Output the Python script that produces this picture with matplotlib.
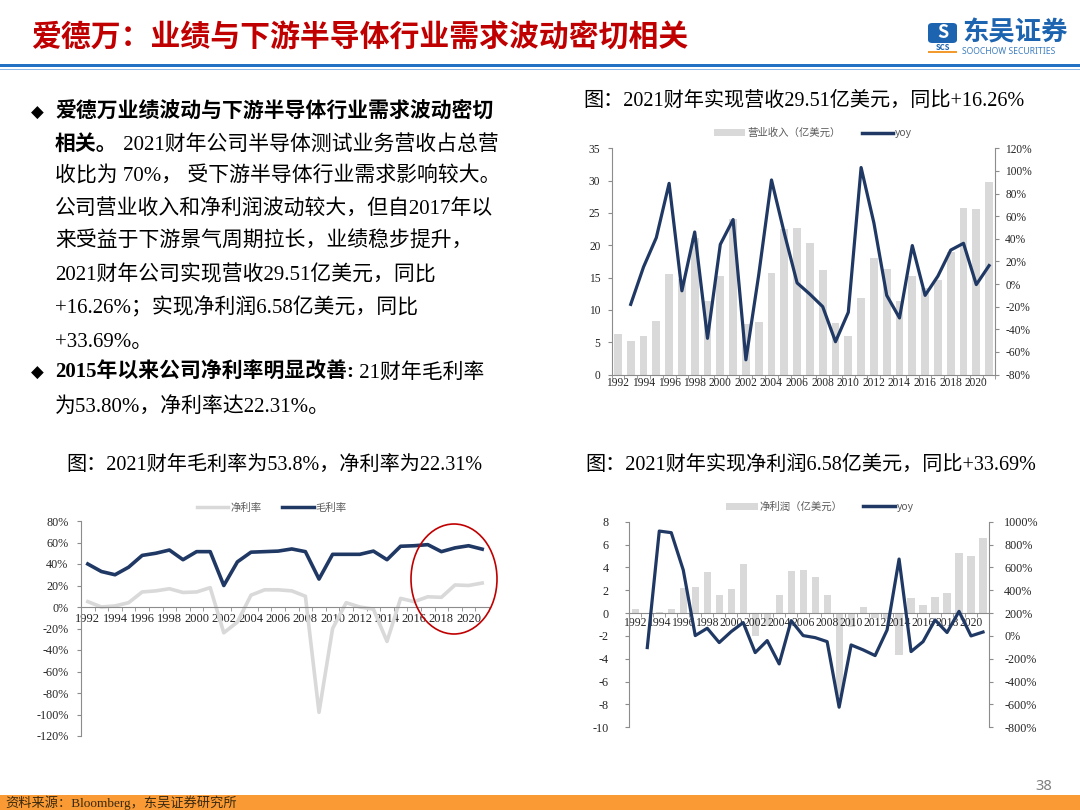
import matplotlib
matplotlib.use('Agg')
import matplotlib.pyplot as plt
import numpy as np
from matplotlib.patches import Rectangle, Ellipse, Patch, FancyBboxPatch
from matplotlib.lines import Line2D
from matplotlib.ticker import FuncFormatter

plt.rcParams['axes.unicode_minus'] = False

W, H = 1080, 810
SERIF = ['Liberation Serif', 'Noto Sans CJK SC', 'DejaVu Sans']
CJK = ['Noto Sans CJK SC', 'DejaVu Sans']
NAVY = '#1F3864'
GREY = '#D9D9D9'
AXC = '#8C8C8C'

# ---- data ----
years = list(range(1992, 2022))
revenue = [6.3, 5.2, 6.0, 8.3, 15.5, 14.7, 21.1, 11.4, 15.3, 24.0,
           7.8, 8.2, 15.7, 22.5, 22.6, 20.3, 16.2, 7.9, 5.9, 11.8,
           18.1, 16.3, 11.4, 15.2, 13.4, 14.6, 19.0, 25.7, 25.6, 29.8]
revenue_yoy = [np.nan, -18, 15, 41, 89, -6, 46, -48, 35, 57,
               -67, 8, 92, 45, 1, -9, -20, -51, -25, 103,
               54, -10, -30, 34, -10, 7, 30, 36, -0.5, 16.3]
gross_margin = [40, 33, 30, 37, 48, 50, 53, 44, 51.5, 51.5,
                20, 42, 51, 51.5, 52, 54, 51.5, 26, 49, 49,
                49, 52, 44, 56.5, 57, 58, 51.5, 55, 57, 53.8]
net_margin = [5, 0, 1, 4, 14, 15, 17, 13.5, 14, 18,
              -24, -14, 11, 16, 16, 15, 10, -98, -20, 4,
              0, -2, -32, 8, 5, 9.5, 9, 20.5, 20, 22.3]
net_profit = [0.4, 0.05, 0.1, 0.4, 2.2, 2.3, 3.6, 1.6, 2.1, 4.3,
              -2.0, -1.1, 1.6, 3.7, 3.75, 3.2, 1.55, -7.3, -1.2, 0.5,
              -0.4, -0.5, -3.7, 1.3, 0.7, 1.45, 1.75, 5.3, 5.0, 6.58]
profit_yoy = [np.nan, -102, 918, 904, 577, 3, 67, -58, 38, 117,
              -146, -41, -245, 134, 3, -15, -50, -624, -79, -122,
              -172, 52, 673, -137, -50, 140, 30, 215, 0, 34]

title = '爱德万：业绩与下游半导体行业需求波动密切相关'
cap1 = '图：2021财年实现营收29.51亿美元，同比+16.26%'
cap2 = '图：2021财年毛利率为53.8%，净利率为22.31%'
cap3 = '图：2021财年实现净利润6.58亿美元，同比+33.69%'
body = [
    [('爱德万业绩波动与下游半导体行业需求波动密切', 'bold')],
    [('相关。', 'bold'), (' 2021财年公司半导体测试业务营收占总营', 'normal')],
    [('收比为 70%， 受下游半导体行业需求影响较大。', 'normal')],
    [('公司营业收入和净利润波动较大，但自2017年以', 'normal')],
    [('来受益于下游景气周期拉长，业绩稳步提升，', 'normal')],
    [('2021财年公司实现营收29.51亿美元，同比', 'normal')],
    [('+16.26%；实现净利润6.58亿美元，同比', 'normal')],
    [('+33.69%。', 'normal')],
    [('2015年以来公司净利率明显改善:', 'bold'), (' 21财年毛利率', 'normal')],
    [('为53.80%，净利率达22.31%。', 'normal')],
]
body_y = [113, 145, 177, 210, 242, 275, 308, 342, 373, 407]
bullet_lines = [0, 8]

fig = plt.figure(figsize=(10.8, 8.1), dpi=100)


def rect(x0, y0, x1, y1):
    return [x0 / W, 1 - y1 / H, (x1 - x0) / W, (y1 - y0) / H]


def fx(x):
    return x / W


def fy(y):
    return 1 - y / H


pct = FuncFormatter(lambda v, p: f'{v:.0f}%')
pos = np.arange(len(years))


def style_x(ax, size, pad):
    ax.set_xlim(-0.5, len(years) - 0.5)
    ax.set_xticks(pos[::2])
    ax.set_xticklabels([str(y) for y in years[::2]], fontsize=size, family=SERIF)
    ax.set_xticks(np.arange(-0.5, len(years), 1), minor=True)
    ax.tick_params(axis='x', which='major', length=0, pad=pad, colors='#262626')
    ax.tick_params(axis='x', which='minor', length=3, color=AXC)


def style_y(ax, ticks, size, pad, fmt=None):
    ax.set_yticks(ticks)
    if fmt is not None:
        ax.yaxis.set_major_formatter(fmt)
    ax.tick_params(axis='y', length=3, pad=pad, labelsize=size, color=AXC,
                   labelcolor='#262626', labelfontfamily=SERIF)


def legend(handles, labels, cx, cy):
    fig.legend(handles, labels, loc='center', bbox_to_anchor=(fx(cx), fy(cy)),
               bbox_transform=fig.transFigure, ncol=2, frameon=False,
               prop={'family': CJK, 'size': 7.5}, handlelength=3.0,
               handletextpad=0.2, columnspacing=2.0, labelcolor='#595959')


def grey_spines(*axes):
    for a in axes:
        for s in a.spines.values():
            s.set_color(AXC)
            s.set_linewidth(0.8)
        a.spines['top'].set_visible(False)


# ---- top right: revenue ----
ax1 = fig.add_axes(rect(611.5, 148.3, 995.5, 374.5))
ax1.bar(pos, revenue, width=0.6, color=GREY)
ax1.set_ylim(0, 35)
ax1b = ax1.twinx()
ax1b.plot(pos, revenue_yoy, color=NAVY, lw=2.3)
ax1b.set_ylim(-80, 120)
grey_spines(ax1, ax1b)
ax1.spines['right'].set_visible(False)
ax1b.spines['left'].set_visible(False)
ax1b.spines['bottom'].set_visible(False)
style_x(ax1, 8.3, 2)
style_y(ax1, np.arange(0, 36, 5), 8.3, 5)
style_y(ax1b, np.arange(-80, 121, 20), 8.3, 4, pct)
legend([Patch(facecolor=GREY), Line2D([], [], color=NAVY, lw=2.5)],
       ['营业收入（亿美元）', 'yoy'], 813, 133)

# ---- bottom left: margins ----
ax3 = fig.add_axes(rect(81, 521, 489, 736))
ax3.plot(pos, net_margin, color=GREY, lw=2.6)
ax3.plot(pos, gross_margin, color=NAVY, lw=2.6)
ax3.set_ylim(-120, 80)
grey_spines(ax3)
ax3.spines['right'].set_visible(False)
ax3.spines['bottom'].set_position(('data', 0))
style_x(ax3, 9, 4)
style_y(ax3, np.arange(-120, 81, 20), 8.7, 6, pct)
legend([Line2D([], [], color=GREY, lw=2.5), Line2D([], [], color=NAVY, lw=2.5)],
       ['净利率', '毛利率'], 272, 508)
fig.add_artist(Ellipse((fx(454), fy(579)), 86 / W, 110 / H, transform=fig.transFigure,
                       fill=False, edgecolor='#C00000', lw=1.2))

# ---- bottom right: net profit ----
ax4 = fig.add_axes(rect(629.3, 521.7, 989, 727.3))
ax4.bar(pos, net_profit, width=0.6, color=GREY)
ax4.set_ylim(-10, 8)
ax4b = ax4.twinx()
ax4b.plot(pos, profit_yoy, color=NAVY, lw=2.3)
ax4b.set_ylim(-800, 1000)
grey_spines(ax4, ax4b)
ax4.spines['right'].set_visible(False)
ax4.spines['bottom'].set_position(('data', 0))
ax4b.spines['left'].set_visible(False)
ax4b.spines['bottom'].set_visible(False)
style_x(ax4, 8.4, 3)
style_y(ax4, np.arange(-10, 9, 2), 8.7, 12)
style_y(ax4b, np.arange(-800, 1001, 200), 8.7, 8, pct)
legend([Patch(facecolor=GREY), Line2D([], [], color=NAVY, lw=2.5)],
       ['净利润（亿美元）', 'yoy'], 820, 507)

# ---- header ----
fig.text(fx(31), fy(38), title, family=CJK, fontsize=21.5, color='#C00000',
         fontweight='bold', va='center')
fig.add_artist(Rectangle((0, fy(67)), 1, 3.5 / H, transform=fig.transFigure,
                         color='#2371C4', lw=0))
fig.add_artist(Rectangle((0, fy(70)), 1, 1.2 / H, transform=fig.transFigure,
                         color='#8DB8E8', lw=0))
# logo
fig.add_artist(FancyBboxPatch((fx(928), fy(43)), 29 / W, 20 / H, transform=fig.transFigure,
                              boxstyle='round,pad=0,rounding_size=0.004',
                              color='#1D64B0', lw=0))
fig.text(fx(942.5), fy(33), 'S', family=CJK, fontsize=13, fontweight='bold',
         fontstyle='italic', color='white', ha='center', va='center')
fig.text(fx(942.5), fy(47), 'SCS', family=CJK, fontsize=5.5, fontweight='bold',
         color='#1D64B0', ha='center', va='center')
fig.add_artist(Rectangle((fx(928), fy(52.5)), 29 / W, 2 / H, transform=fig.transFigure,
                         color='#F39A2E', lw=0))
fig.text(fx(962), fy(33), '东吴证券', family=CJK, fontsize=19, fontweight='bold',
         color='#1D64B0', va='center')
fig.text(fx(962), fy(52), 'SOOCHOW SECURITIES', family=['Noto Sans', 'DejaVu Sans'],
         fontsize=6.2, color='#3E7FC1', va='center')

# ---- body text ----
renderer = fig.canvas.get_renderer()
for i, (runs, y) in enumerate(zip(body, body_y)):
    if i in bullet_lines:
        fig.text(fx(31), fy(y), '◆', family=['DejaVu Sans'], fontsize=12, va='center')
    x = 55
    for txt, wt in runs:
        t = fig.text(fx(x), fy(y), txt, family=SERIF, fontsize=15, fontweight=wt,
                     va='center', ha='left')
        x += t.get_window_extent(renderer).width

fig.text(fx(583), fy(101), cap1, family=SERIF, fontsize=14.5, va='center')
fig.text(fx(66), fy(465), cap2, family=SERIF, fontsize=14.5, va='center')
fig.text(fx(585), fy(465), cap3, family=SERIF, fontsize=14.5, va='center')

# ---- footer ----
fig.add_artist(Rectangle((0, 0), 1, 15 / H, transform=fig.transFigure,
                         color='#FA9A34', lw=0))
fig.text(fx(5), fy(803), '资料来源：Bloomberg，东吴证券研究所', family=SERIF,
         fontsize=9.5, color='#3A2A10', va='center')
fig.text(fx(1035), fy(787), '38', family=['Noto Sans', 'DejaVu Sans'], fontsize=10.5,
         color='#7F7F7F', va='center')

fig.savefig('out.png', dpi=100)
